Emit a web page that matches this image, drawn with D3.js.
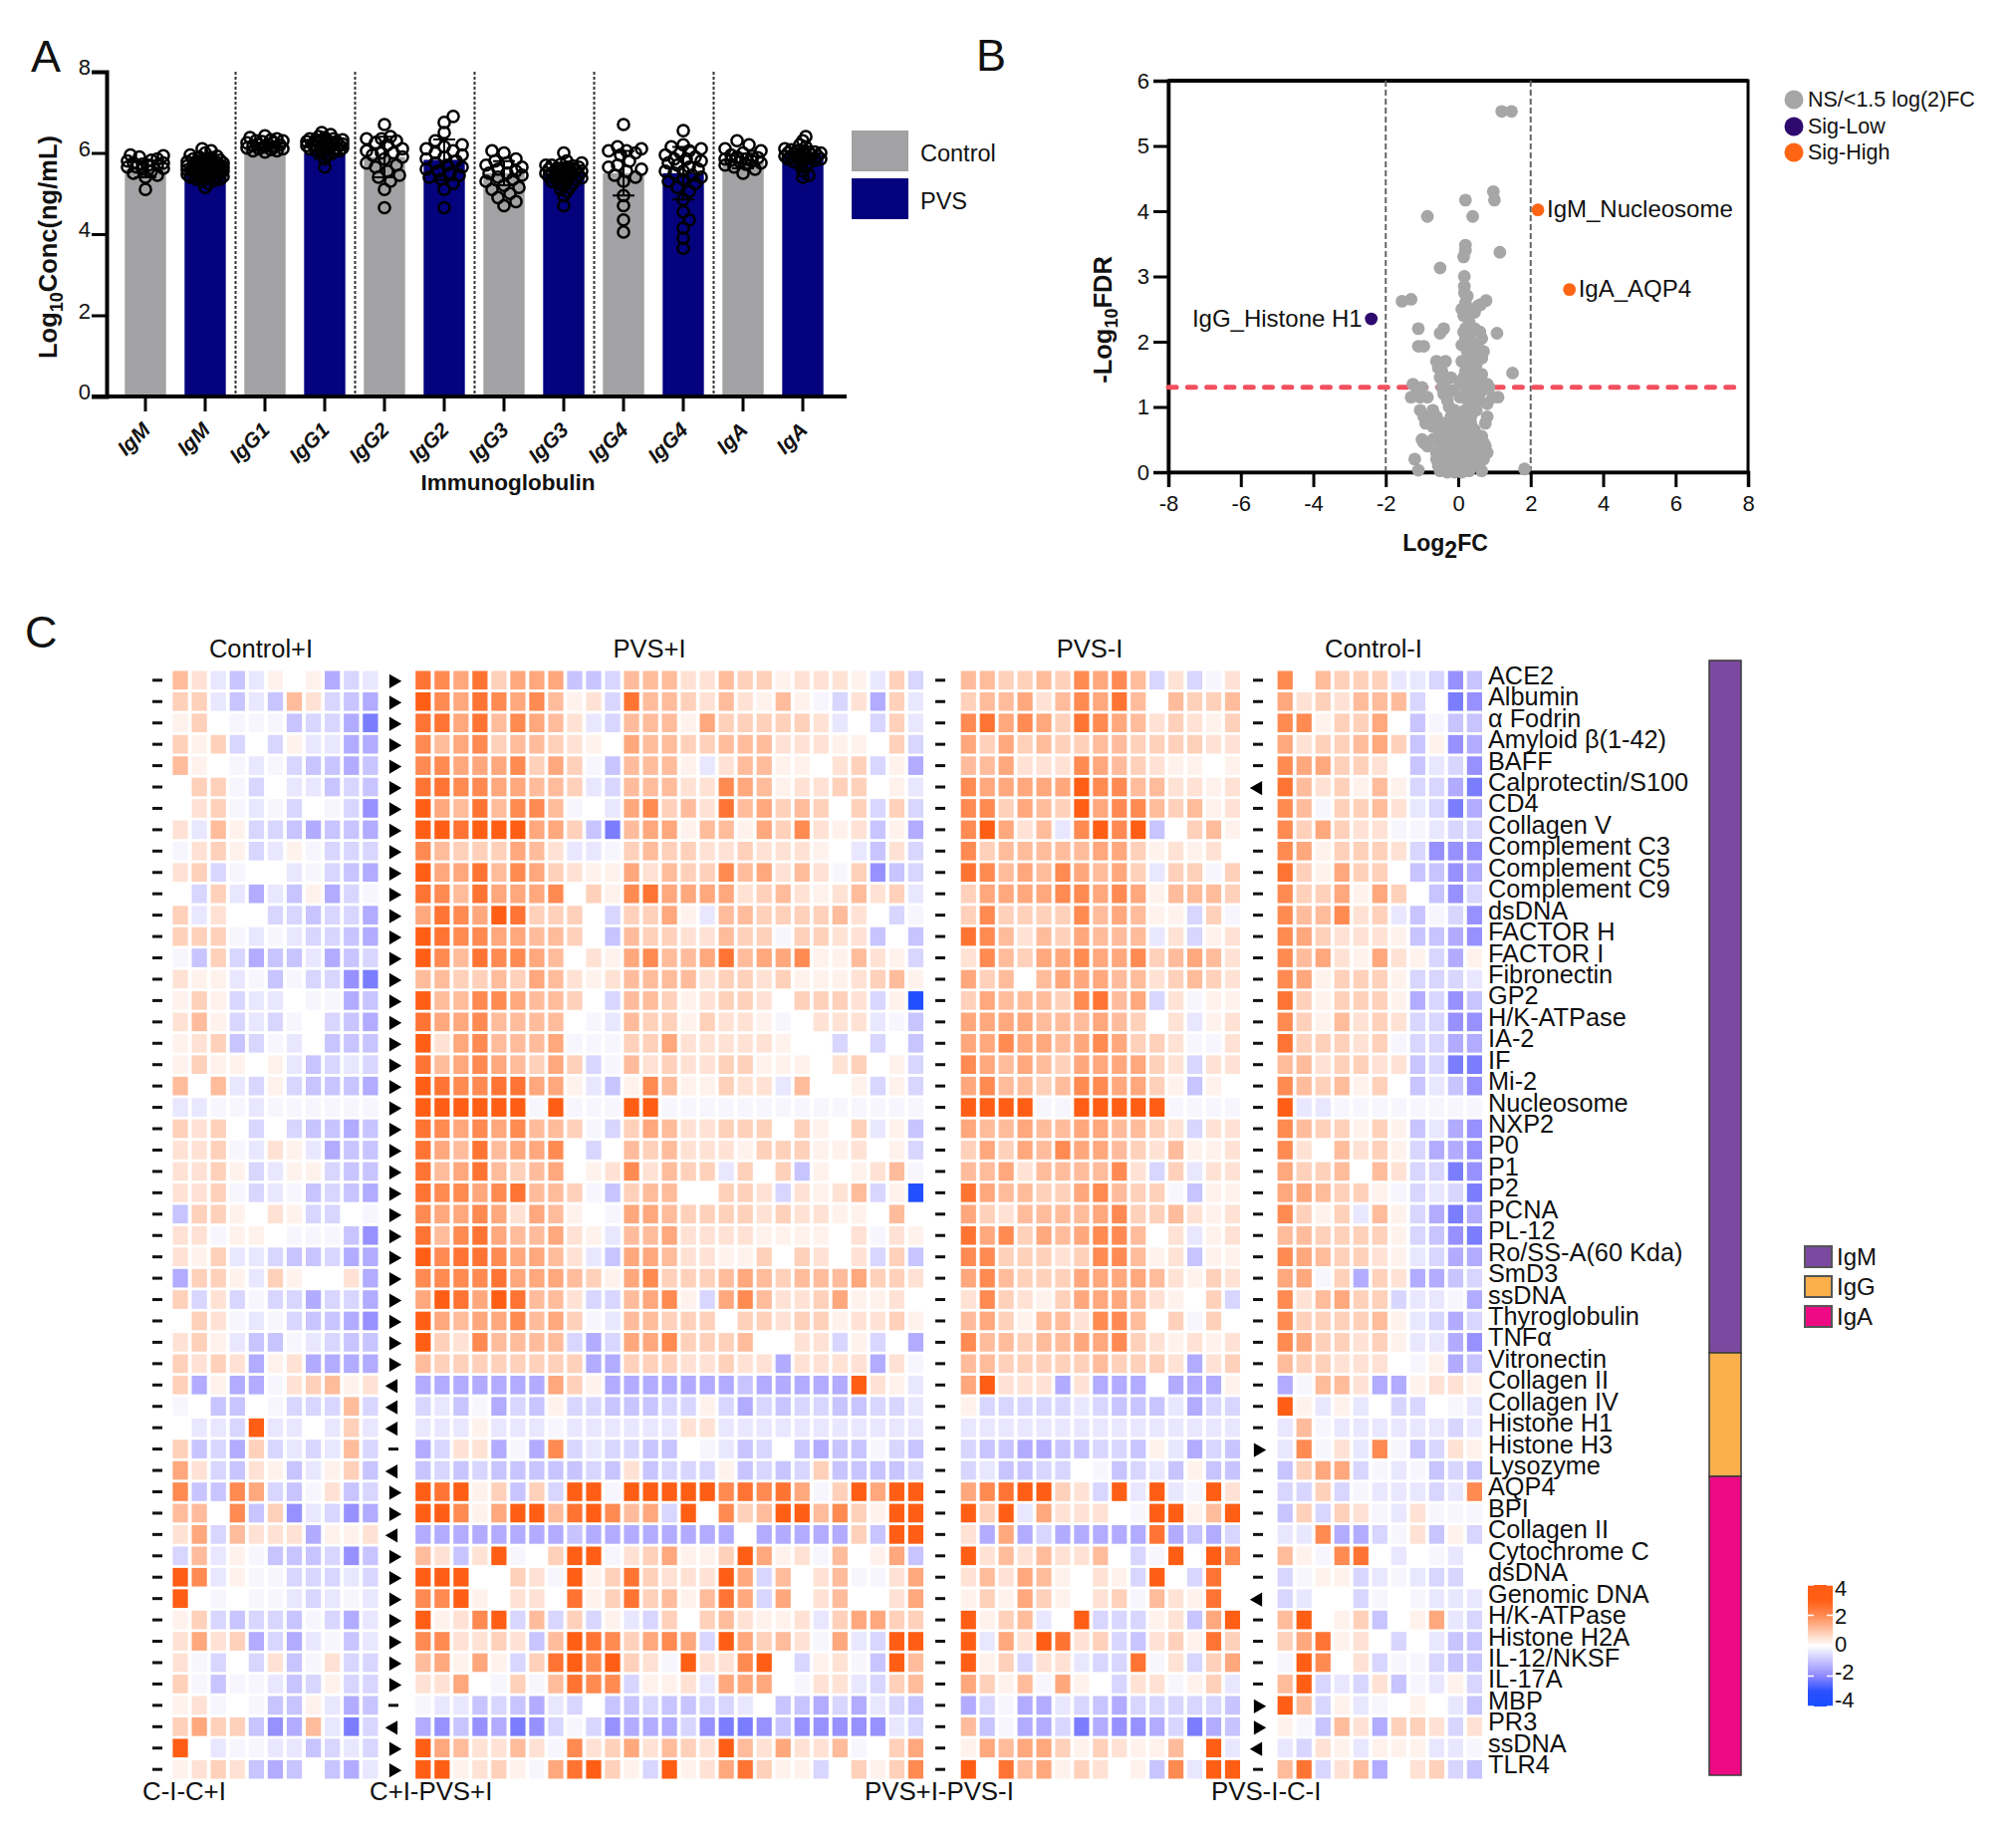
<!DOCTYPE html>
<html>
<head>
<meta charset="utf-8">
<style>
  body { margin: 0; background: #fff; }
  text { font-family: "Liberation Sans", Arial, sans-serif; fill: #111; }
</style>
<script src="https://d3js.org/d3.v7.min.js"></script>
</head>
<body>
<svg id="fig" width="2024" height="1840"></svg>
<script>
// ---- panel A ----
var igNames = ["IgM","IgM","IgG1","IgG1","IgG2","IgG2","IgG3","IgG3","IgG4","IgG4","IgA","IgA"];
var igMeans = [5.6,5.65,6.15,6.0,5.9,5.83,5.5,5.5,5.5,5.5,5.8,5.95];
var igSd = [.2,.2,.1,.15,.5,.5,.3,.25,.55,.65,.18,.15];
var igPoints = [
  [5.1,5.4,5.45,5.5,5.55,5.6,5.62,5.65,5.65,5.7,5.7,5.72,5.75,5.75,5.8,5.82,5.85,5.9,5.93,5.95],
  [5.15,5.25,5.3,5.32,5.35,5.35,5.38,5.4,5.4,5.42,5.42,5.45,5.45,5.45,5.47,5.5,5.5,5.5,5.5,5.52,5.52,5.55,5.55,5.55,5.55,5.58,5.58,5.6,5.6,5.6,5.6,5.62,5.62,5.65,5.65,5.65,5.65,5.68,5.68,5.7,5.7,5.7,5.7,5.72,5.72,5.75,5.75,5.75,5.75,5.78,5.78,5.8,5.8,5.8,5.82,5.85,5.85,5.88,5.9,5.92,5.95,6.0,6.05,6.1],
  [6.02,6.05,6.05,6.08,6.1,6.1,6.12,6.15,6.15,6.18,6.2,6.2,6.22,6.25,6.25,6.28,6.3,6.3,6.32,6.35,6.38,6.42],
  [5.65,5.85,5.95,6.0,6.02,6.05,6.05,6.08,6.1,6.1,6.12,6.12,6.15,6.15,6.15,6.18,6.18,6.2,6.2,6.2,6.22,6.22,6.25,6.25,6.25,6.28,6.28,6.3,6.3,6.32,6.32,6.35,6.35,6.38,6.4,6.45,6.5],
  [4.65,5.1,5.3,5.4,5.45,5.55,5.65,5.7,5.75,5.85,5.9,5.95,6.0,6.0,6.05,6.1,6.2,6.25,6.3,6.35,6.35,6.4,6.7],
  [4.65,5.1,5.25,5.35,5.4,5.45,5.5,5.55,5.6,5.65,5.7,5.75,5.8,5.85,5.9,5.95,6.0,6.05,6.1,6.15,6.2,6.3,6.5,6.75,6.9],
  [4.7,4.8,4.9,5.0,5.1,5.15,5.2,5.3,5.35,5.4,5.45,5.5,5.5,5.55,5.6,5.65,5.7,5.75,5.8,5.85,6.0,6.05],
  [4.7,4.95,5.05,5.1,5.15,5.2,5.25,5.25,5.3,5.3,5.35,5.35,5.38,5.4,5.4,5.42,5.45,5.45,5.48,5.5,5.5,5.5,5.52,5.55,5.55,5.55,5.58,5.6,5.6,5.6,5.62,5.65,5.65,5.68,5.7,5.7,5.72,5.75,5.8,6.0],
  [4.05,4.35,4.7,4.95,5.3,5.4,5.45,5.55,5.6,5.65,5.7,5.8,5.95,6.0,6.05,6.05,6.1,6.15,6.7],
  [3.65,3.9,4.15,4.35,4.55,4.85,5.05,5.15,5.25,5.3,5.35,5.4,5.45,5.5,5.55,5.55,5.6,5.65,5.7,5.75,5.8,5.85,5.85,5.9,5.95,6.0,6.05,6.1,6.15,6.2,6.55],
  [5.5,5.6,5.65,5.7,5.72,5.75,5.78,5.8,5.82,5.85,5.85,5.88,5.9,5.92,5.95,6.0,6.05,6.1,6.2,6.3],
  [5.4,5.45,5.55,5.65,5.7,5.75,5.78,5.8,5.82,5.85,5.85,5.88,5.88,5.9,5.9,5.92,5.92,5.95,5.95,5.98,5.98,6.0,6.0,6.02,6.02,6.05,6.05,6.08,6.1,6.15,6.2,6.3,6.4]
];

// ---- panel B ----
var nsPoints = [[1.2,5.53],[1.47,5.53],[.97,4.3],[1,4.17],[.2,4.17],[-.85,3.92],[.4,3.92],[.2,3.48],[.2,3.4],[.15,3.3],[1.15,3.37],[-.5,3.13],[.17,3],[.17,2.85],[.17,2.75],[-1.55,2.62],[-1.3,2.65],[.77,2.63],[.62,2.57],[.55,2.55],[.1,2.5],[.2,2.6],[.25,2.45],[.15,2.4],[.3,2.3],[.2,2.2],[-1.1,2.2],[-.4,2.2],[-.5,2.13],[.3,2.1],[1.07,2.13],[.6,2.15],[.65,2.05],[.2,2.05],[.35,2],[.1,1.95],[.55,1.9],[.7,1.85],[-1.1,1.93],[-.95,1.93],[.25,1.85],[.45,1.8],[.65,1.75],[.3,1.7],[.1,1.7],[-.6,1.7],[-.35,1.7],[-.55,1.6],[-.45,1.55],[.2,1.55],[.4,1.55],[.65,1.5],[1.5,1.52],[-.5,1.45],[-.35,1.4],[.15,1.45],[.5,1.4],[.8,1.35],[-1.25,1.35],[-1.15,1.3],[-1.1,1.22],[-.45,1.3],[-.4,1.2],[.2,1.3],[.4,1.25],[.65,1.25],[.85,1.3],[-1.3,1.15],[-1.05,1.15],[-.3,1.1],[.15,1.15],[.45,1.1],[.6,1.1],[1.1,1.15],[-1.05,.95],[-.7,.95],[-.1,.95],[.2,.95],[.5,.95],[-.95,.85],[-.6,.85],[-.2,.85],[.1,.85],[.35,.85],[.8,.85],[-.9,.75],[-.7,.7],[-.4,.75],[-.15,.75],[.1,.75],[.35,.75],[-.5,.65],[-.25,.65],[0,.65],[.25,.65],[.45,.65],[-1,.5],[-.95,.45],[-.3,.55],[-.1,.55],[.1,.55],[.3,.55],[.65,.55],[.7,.45],[-.85,.4],[-.5,.4],[-.25,.4],[0,.4],[.2,.4],[.4,.4],[.75,.4],[-.6,.3],[-.35,.3],[-.1,.3],[.15,.3],[.35,.3],[.65,.3],[.8,.3],[-1.2,.2],[-.6,.2],[-.4,.2],[-.2,.2],[0,.2],[.2,.2],[.4,.2],[.7,.2],[-.55,.1],[-.35,.1],[-.15,.1],[.05,.1],[.3,.1],[.55,.1],[-1.1,.03],[-.5,.02],[-.3,0],[-.1,0],[.1,0],[.3,.02],[.65,.02],[1.83,.05],[.05,1.35],[.3,1.45],[.05,1.15],[.3,1.05],[.35,1.6],[.45,2.2],[.4,1.95],[.25,2.7],[.3,2.5],[.45,2.45],[.15,2.15],[.5,1.65],[.5,1.25],[.3,.95],[-.25,1],[-.55,.55],[-.7,.5],[.5,.5],[.55,.3],[-.2,1.45],[-.15,1.25],[.95,1.15],[.8,1.05],[.75,.75],[-.75,.8],[-1,1.3],[-.85,1.15]];
var lowPoints = [[-2.4,2.35]];
var highPoints = [[2.2,4.02],[3.07,2.8]];
var pointLabels = [
  {p: [2.2,4.02], text: "IgM_Nucleosome", side: 1},
  {p: [3.07,2.8], text: "IgA_AQP4", side: 1},
  {p: [-2.4,2.35], text: "IgG_Histone H1", side: -1}
];

// ---- panel C ----
var antigens = ["ACE2","Albumin","α Fodrin","Amyloid β(1-42)","BAFF","Calprotectin/S100","CD4","Collagen V","Complement C3","Complement C5","Complement C9","dsDNA","FACTOR H","FACTOR I","Fibronectin","GP2","H/K-ATPase","IA-2","IF","Mi-2","Nucleosome","NXP2","P0","P1","P2","PCNA","PL-12","Ro/SS-A(60 Kda)","SmD3","ssDNA","Thyroglobulin","TNFα","Vitronectin","Collagen II","Collagen IV","Histone H1","Histone H3","Lysozyme","AQP4","BPI","Collagen II","Cytochrome C","dsDNA","Genomic DNA","H/K-ATPase","Histone H2A","IL-12/NKSF","IL-17A","MBP","PR3","ssDNA","TLR4"];
var isotypeNames = ["IgM","IgG","IgA"];
var isotypeCounts = [33,5,14];
var isotypeColors = ["#7b4aa0","#fbb04c","#ee0a85"];

// one letter per cell; levels below turn them into log2 values
var levels = {"0":0,"1":.22,"2":.5,"3":.8,"4":1.15,"5":1.5,"6":2,"7":2.5,"8":3.2,a:-.15,b:-.4,c:-.7,d:-1,e:-1.4,f:-1.85,g:-2.2,h:-3.5};

var controlPlus = ["42bdb101ecb","33bdbd42cde","130aaadcceg","313c0c1bbee","410abacdded","033ac0bbdcd","023abac0acf","2b41ccdedde","a231cb1accc","23ca00bacde","0c3bebd1eca","3b200ccdcce","333ababccde","ad3ceddbedc","211badaccfg","131cbb0aaed","241cbca0cde","123dcab0ddd","131101bdcbc","404bc1cddde","bbaabaaaaaa","3230c0cdded","223ab21bedd","2231cb11cdd","223acbadcde","d331021cc0a","22a110aaadf","213bbcddcee","e331b31002e","3c2caccecce","032abacddef","231bddabcdd","3232e12eeee","3e1eea23412","a0dd0accc4c","0bbc8bb0b3b","3dce3cbcb4c","52cd21db13d","6dd65cda2dc","4406d3fbcfe","25c4222e112","c4b1adddcfd","86b1aacccbc","80a0aabcbab","13cdccdaceb","2523ecebadb","2ac0c2da2cc","3adaabdc1cc","12a0add1bed","3533dfe4bgc","80baabbdcbc","1232ded0deb"];

var pvsPlus = ["76573555 ddc 444 22 433 12221 b3c","86576564 12c 744 32 421 41ac2 e3b","77574654 2bc 444 15 333 332b0 c3b","64563443 210 544 33 444 22211 03c","66555635 3ad 444 1b 244 11023 c1e","77665544 3bc 444 22 654 12233 01b","85474664 a0b 563 42 745 34303 c3c","88788855 3dg 455 14 415 36212 d1e","64333542 bba 343 32 232 2210b d2c","85574653 211 524 33 645 242a3 fdc","76475556 031 675 55 523 42124 23b","57658733 30c 335 1b 443 33342 0ca","87665544 30d 433 22 433 a3322 d0d","86476654 021 564 45 745 56114 21c","44334354 212 444 42 332 31112 341","84466544 30c 443 12 332 03332 c1h","75564444 0ab 433 13 221 a0222 bad","82564445 aaa 335 22 222 100c0 c0d","74565435 3ca 423 22 331 11023 01c","87667755 1bd 164 11 322 b4001 c1c","888888a8 aaa 88a aa aaa aaaaa aaa","76565644 3ac 354 22 333 03103 b1d","75474556 0c0 434 22 213 33112 01c","74574345 012 624 33 b30 3d101 24a","76656744 3ad 344 00 332 c2124 c1h","65565254 10a 554 33 332 32211 040","74675445 21b 445 22 221 11102 a21","86776554 2bd 554 22 113 03202 c3d","66667555 431 563 33 454 34445 332","58758744 2cc 456 1c 564 22351 120","85455645 3ab 443 33 033 23312 231","83264444 cec 556 33 340 022c1 c0e","43333333 3ee 333 22 322 e2222 e2a","eeeeeee5 31e eee ee ede eeee8 21b","cbdaecd1 ccd ddc c1 cec dccdd ccb","bbb1bbba bbb bbb 22 bbb bbbbb bbb","ec22eae6 cbc cdd 0a bdc 0dedd acd","dcdcdddd dcd 2dc cc 1dc dc3dd ddc","87813d3c 88a 888 88 676 75a38 588","88615884 786 45c 80 634 88463 188","eeeeeeee dee eee ee e0e eeee3 d88","42d28a03 88a 235 11 385 12a40 15d","8880032a 813 732 22 85c 4024a a25","66810220 713 734 14 75c 50240 025","81268c4c 3c1 bc3 03 421 12b35 533","662232d4 876 356 5c 853 42a5b c88","45151c37 868 32a 82 268 0c12a d84","2250a3a4 766 c11 2b 555 0a22b c34","abbdcdeb c0d dcd dc cb0 ddece bcd","efdfegfc acf eee cf ggf dffff fbc","8542242a 623 524 32 842 5224a 035","881231a5 783 1c8 12 573 11c03 136"];

var pvsMinus = ["44334 36564 c2ca2","34452 46574 04334","67565 37654 23213","53534 33443 33322","44522 26543 21101","65555 58664 42212","66354 38566 43412","68524 b6868 d0341","63444 44553 12120","76454 65453 b33a3","35555 66565 14443","36333 36454 11c3a","76424 35444 b2c12","26435 56556 34542","53404 55544 23432","35444 36745 c2a11","55554 44543 02b12","55655 45653 32aa2","65454 35555 32c22","56443 46655 31d10","8888a a8888 8aaaa","54454 45544 32c22","35354 65543 24112","44524 44462 c3b22","75443 35643 3ad11","53244 44563 34212","75635 45664 02b12","66333 23664 12d11","56433 35555 42132","26321 35554 2103c","45314 42664 03a30","64434 45563 21212","44333 33433 32e23","58222 e2eee 0eee1","1cccc cbcdd dbecc","bbbbb bbbbb bbbbb","cddee ddccd 1becd","cbddc c0adc bd1dd","56788 32c8b 8ba82","838b5 2220a 88148","2e5ec eeeee 7edec","82424 2240c a8086","24254 1021c 80c70","13153 1023a 42170","8134b 08ccc 12d58","8b528 723cd 23173","813c2 2bcc7 a2c35","5314a 510c2 2a13b","ecaee bcdec ccccd","4daee cgeff ecged","15455 31321 1408b","80745 13201 d6b88"];

var controlMinus = ["604333bbcfd","5232444c0gf","6613350dadd","5233453d1fe","6553320dbcf","7423141cceg","64a3342bcge","635322aabcc","6513332cfff","7315330ddfe","63351530dfc","644623bdacf","6532221ddef","64521521ce1","6513331cccb","7313331ecfd","6314232ccff","733323accee","4423322dcgg","6434130dbdf","8bbaaaaaaaa","6433131dbef","6204231ceef","5334042ccgf","554331acbcg","6313b41cege","4433331cdfg","6543321bcee","55a3e32eedc","624533cbbae","6333341bcec","6533231bbef","4332220a1ed","ea442ee1221","81b1b0cc0ab","b4abbbbbbcb","b6a2b6adc21","d355cabadcd","cc3cabbbcb6","d3c32ab2aaa","bb6eeca2d1c","41a670b0ab0","ca11cbabcc0","cb00ca0abbb","48013d015bc","357120c0bdd","a8602caacdd","48cbc2dab1c","84c1ba010bd","1ad42e332c2","bc21b111bba","47c24e023cd"];

// direction markers between the blocks: 1 right, -1 left, 0 dash
var markersB = [1,1,1,1,1,1,1,1,1,1,1,1,1,1,1,1,1,1,1,1,1,1,1,1,1,1,1,1,1,1,1,1,1,-1,-1,-1,0,-1,1,1,-1,1,1,1,1,1,1,1,0,-1,1,1];
var markersD = [0,0,0,0,0,-1,0,0,0,0,0,0,0,0,0,0,0,0,0,0,0,0,0,0,0,0,0,0,0,0,0,0,0,0,0,0,1,0,0,0,0,0,0,-1,0,0,0,0,1,1,-1,0];

var svg = d3.select("#fig");

function panelLetter(s, x, y) {
  svg.append("text").attr("x", x).attr("y", y).attr("font-size", 45).text(s);
}
panelLetter("A", 31, 72);
panelLetter("B", 980, 71);
panelLetter("C", 25, 650);

// ---------- A: bars ----------
var xA = d3.scaleBand().domain(d3.range(igNames.length)).range([116, 836]).paddingInner(.31).paddingOuter(.155),
    yA = d3.scaleLinear().domain([0, 8]).range([398, 72]),
    a = svg.append("g");

[236.5, 356.5, 476.5, 596.5, 716.5].forEach(function(x) {
  a.append("line").attr("x1", x).attr("x2", x).attr("y1", 72).attr("y2", 398)
    .attr("stroke", "#333").attr("stroke-width", 2).attr("stroke-dasharray", "3,2");
});

a.selectAll(".bar").data(igMeans).enter().append("rect")
  .attr("class", "bar")
  .attr("x", function(d, i) { return xA(i); })
  .attr("width", xA.bandwidth())
  .attr("y", function(d) { return yA(d); })
  .attr("height", function(d) { return yA(0) - yA(d); })
  .attr("fill", function(d, i) { return i % 2 ? "#04027c" : "#a2a2a4"; });

// simple bee swarm: nearest offset that keeps a gap, else the roomiest one
function swarm(values) {
  var placed = [],
      gap = values.length > 32 ? 5 : 10,
      offsets = [0,3,-3,6,-6,9,-9,12,-12,15,-15,18,-18];
  values.slice().sort(d3.ascending).forEach(function(v) {
    var py = yA(v), best = 0, bestRoom = -1;
    for (var k = 0; k < offsets.length; k++) {
      var room = d3.min(placed, function(q) { return Math.hypot(q.dx - offsets[k], q.y - py); });
      if (room === undefined) room = 99;
      if (room > bestRoom) { bestRoom = room; best = offsets[k]; }
      if (room > gap) break;
    }
    placed.push({dx: best, y: py});
  });
  return placed;
}

igPoints.forEach(function(vals, i) {
  var cx = xA(i) + xA.bandwidth() / 2;
  var g = a.append("g");
  g.selectAll("circle").data(swarm(vals)).enter().append("circle")
    .attr("cx", function(d) { return cx + d.dx; })
    .attr("cy", function(d) { return d.y; })
    .attr("r", 5.6)
    .attr("fill", "none")
    .attr("stroke", "#000")
    .attr("stroke-width", 2.5);
  var lo = yA(igMeans[i] - igSd[i]), hi = yA(igMeans[i] + igSd[i]);
  g.append("path")
    .attr("d", "M" + (cx - 11) + "," + lo + "H" + (cx + 11) + "M" + cx + "," + lo + "V" + hi + "M" + (cx - 11) + "," + hi + "H" + (cx + 11))
    .attr("fill", "none").attr("stroke", "#000").attr("stroke-width", 2);
});

var axA = a.append("g").attr("transform", "translate(107,0)")
  .call(d3.axisLeft(yA).tickValues([0, 2, 4, 6, 8]).tickSize(15).tickPadding(1));
axA.select(".domain").attr("stroke", "#000").attr("stroke-width", 4);
axA.selectAll(".tick line").attr("stroke", "#000").attr("stroke-width", 3);
axA.selectAll(".tick text").attr("font-size", 22).attr("font-family", "Liberation Sans").attr("fill", "#111").attr("dy", "0.12em");

a.append("line").attr("x1", 92).attr("x2", 850).attr("y1", 398).attr("y2", 398)
  .attr("stroke", "#000").attr("stroke-width", 4);
var botA = a.append("g").attr("transform", "translate(0,398)")
  .call(d3.axisBottom(xA).tickSize(15).tickFormat(function(i) { return igNames[i]; }));
botA.select(".domain").remove();
botA.selectAll(".tick line").attr("stroke", "#000").attr("stroke-width", 3);
botA.selectAll(".tick text")
  .attr("font-size", 21).attr("font-style", "italic").attr("font-weight", "bold")
  .attr("font-family", "Liberation Sans").attr("fill", "#111")
  .attr("text-anchor", "end").attr("dy", 0).attr("y", 0)
  .attr("transform", "translate(6,35) rotate(-45)");

a.append("text").attr("x", 510).attr("y", 492).attr("text-anchor", "middle")
  .attr("font-size", 22.5).attr("font-weight", "bold").text("Immunoglobulin");

var tA = a.append("text").attr("transform", "translate(57,248) rotate(-90)")
  .attr("text-anchor", "middle").attr("font-size", 25.5).attr("font-weight", "bold");
tA.append("tspan").text("Log");
tA.append("tspan").attr("font-size", 18).attr("dy", 6).text("10");
tA.append("tspan").attr("dy", -6).text("Conc(ng/mL)");

[["Control", "#a2a2a4", 131, 162], ["PVS", "#04027c", 179, 210]].forEach(function(d) {
  a.append("rect").attr("x", 855).attr("y", d[2]).attr("width", 57).attr("height", 41).attr("fill", d[1]);
  a.append("text").attr("x", 924).attr("y", d[3]).attr("font-size", 23.5).text(d[0]);
});

// ---------- B: volcano ----------
var xB = d3.scaleLinear().domain([-8, 8]).range([1173, 1755]),
    yB = d3.scaleLinear().domain([0, 6]).range([474, 81]),
    b = svg.append("g");

b.append("rect").attr("x", xB(-8)).attr("y", yB(6)).attr("width", xB(8) - xB(-8)).attr("height", yB(0) - yB(6))
  .attr("fill", "none").attr("stroke", "#000").attr("stroke-width", 3);
b.append("line").attr("x1", xB(-8)).attr("x2", xB(8)).attr("y1", yB(6)).attr("y2", yB(6)).attr("stroke", "#000").attr("stroke-width", 4);

[-2, 2].forEach(function(v) {
  b.append("line").attr("x1", xB(v)).attr("x2", xB(v)).attr("y1", yB(6)).attr("y2", yB(0))
    .attr("stroke", "#666").attr("stroke-width", 2).attr("stroke-dasharray", "6,3");
});

var axBy = b.append("g").attr("transform", "translate(1173,0)")
  .call(d3.axisLeft(yB).ticks(6).tickSize(15).tickPadding(4));
var axBx = b.append("g").attr("transform", "translate(0,474)")
  .call(d3.axisBottom(xB).tickValues(d3.range(-8, 9, 2)).tickSize(15).tickPadding(8).tickFormat(String));
[axBy, axBx].forEach(function(ax) {
  ax.select(".domain").attr("stroke", "#000").attr("stroke-width", 3.5);
  ax.selectAll(".tick line").attr("stroke", "#000").attr("stroke-width", 3);
  ax.selectAll(".tick text").attr("font-size", 22).attr("font-family", "Liberation Sans").attr("fill", "#111");
});

b.append("line").attr("x1", xB(-8)).attr("x2", xB(8) - 8).attr("y1", yB(1.3)).attr("y2", yB(1.3))
  .attr("stroke", "#f2505f").attr("stroke-width", 5).attr("stroke-dasharray", "8,11.3").attr("stroke-linecap", "round");

function dots(data, color) {
  b.append("g").selectAll("circle").data(data).enter().append("circle")
    .attr("cx", function(d) { return xB(d[0]); })
    .attr("cy", function(d) { return yB(d[1]); })
    .attr("r", 6.4).attr("fill", color);
}
dots(nsPoints, "#a6a6a6");
dots(lowPoints, "#2f0a6e");
dots(highPoints, "#ff6514");

pointLabels.forEach(function(d) {
  b.append("text").attr("x", xB(d.p[0]) + d.side * 9).attr("y", yB(d.p[1]) + 7.5)
    .attr("text-anchor", d.side > 0 ? "start" : "end")
    .attr("font-size", 24).text(d.text);
});

var tBx = b.append("text").attr("x", 1451).attr("y", 553).attr("text-anchor", "middle")
  .attr("font-size", 23).attr("font-weight", "bold");
tBx.append("tspan").text("Log");
tBx.append("tspan").attr("font-size", 23).attr("dy", 7).text("2");
tBx.append("tspan").attr("dy", -7).text("FC");
var tBy = b.append("text").attr("transform", "translate(1116,321) rotate(-90)")
  .attr("text-anchor", "middle").attr("font-size", 25.5).attr("font-weight", "bold");
tBy.append("tspan").text("-Log");
tBy.append("tspan").attr("font-size", 18).attr("dy", 6).text("10");
tBy.append("tspan").attr("dy", -6).text("FDR");

[["NS/<1.5 log(2)FC", "#a6a6a6", 100], ["Sig-Low", "#2f0a6e", 127], ["Sig-High", "#ff6514", 153]].forEach(function(d) {
  b.append("circle").attr("cx", 1801).attr("cy", d[2]).attr("r", 9.5).attr("fill", d[1]);
  b.append("text").attr("x", 1815).attr("y", d[2] + 7).attr("font-size", 21.5).text(d[0]);
});

// ---------- C: heat map ----------
var yC = d3.scaleBand().domain(d3.range(antigens.length)).range([673.5, 1785.5]).paddingInner(.13),
    color = d3.scaleLinear()
      .domain([-4, -3, -2, 0, 2, 3, 4])
      .range(["#1a4dff", "#2a50ff", "#8f88ff", "#ffffff", "#ff8a52", "#ff5e14", "#ff5e14"]),
    c = svg.append("g");

var blocks = [
  {rows: controlPlus, x0: 173.4, x1: 379.5, title: "Control+I", tx: 262},
  {rows: pvsPlus, x0: 417.2, x1: 927, title: "PVS+I", tx: 652},
  {rows: pvsMinus, x0: 964.7, x1: 1245, title: "PVS-I", tx: 1094},
  {rows: controlMinus, x0: 1282.6, x1: 1488, title: "Control-I", tx: 1379}
];

blocks.forEach(function(block) {
  var rows = block.rows.map(function(s) { return s.replace(/ /g, "").split(""); });
  var xC = d3.scaleBand().domain(d3.range(rows[0].length)).range([block.x0, block.x1]).paddingInner(.2);
  var g = c.append("g");
  g.selectAll("g").data(rows).enter().append("g")
    .attr("transform", function(d, i) { return "translate(0," + yC(i) + ")"; })
    .selectAll("rect").data(function(d) { return d; }).enter().append("rect")
    .attr("x", function(d, i) { return xC(i); })
    .attr("width", xC.bandwidth())
    .attr("height", yC.bandwidth())
    .attr("fill", function(d) { return color(levels[d]); });
  c.append("text").attr("x", block.tx).attr("y", 660).attr("text-anchor", "middle")
    .attr("font-size", 25.5).text(block.title);
});

function markerColumn(x, signs) {
  var g = c.append("g");
  signs.forEach(function(s, i) {
    var cy = yC(i) + yC.bandwidth() / 2;
    if (s === 0) {
      g.append("rect").attr("x", x - 5).attr("y", cy - 1.5).attr("width", 10).attr("height", 3).attr("fill", "#111");
    } else {
      g.append("path").attr("d", d3.symbol(d3.symbolTriangle, 88))
        .attr("transform", "translate(" + x + "," + (cy + 1) + ") rotate(" + (s > 0 ? 90 : -90) + ")")
        .attr("fill", "#000");
    }
  });
}
var noChange = antigens.map(function() { return 0; });
markerColumn(158, noChange);
markerColumn(395, markersB);
markerColumn(944, noChange);
markerColumn(1263, markersD);

c.selectAll(".ag").data(antigens).enter().append("text")
  .attr("class", "ag")
  .attr("x", 1494)
  .attr("y", function(d, i) { return yC(i) + yC.bandwidth() / 2 + 4; })
  .attr("font-size", 25.3)
  .text(function(d) { return d; });

[["C-I-C+I", 143], ["C+I-PVS+I", 371], ["PVS+I-PVS-I", 868], ["PVS-I-C-I", 1216]].forEach(function(d) {
  c.append("text").attr("x", d[1]).attr("y", 1807).attr("font-size", 25.8).text(d[0]);
});

// isotype strip at the right, boundaries do not follow the rows exactly
var ends = d3.cumsum(isotypeCounts),
    stripY = d3.scaleLinear().domain([0, ends[0], ends[1], ends[2]]).range([663, 1358, 1482, 1782]);
isotypeCounts.forEach(function(n, i) {
  var from = i ? ends[i - 1] : 0;
  c.append("rect").attr("x", 1716).attr("y", stripY(from)).attr("width", 32).attr("height", stripY(ends[i]) - stripY(from))
    .attr("fill", isotypeColors[i]).attr("stroke", "#3a3a3a").attr("stroke-width", 1.5);
  c.append("rect").attr("x", 1812).attr("y", 1251 + i * 30).attr("width", 27).attr("height", 21)
    .attr("fill", isotypeColors[i]).attr("stroke", "#555").attr("stroke-width", 2);
  c.append("text").attr("x", 1844).attr("y", 1270 + i * 30).attr("font-size", 24).text(isotypeNames[i]);
});

// colour key
var yKey = d3.scaleLinear().domain([-4, 4]).range([1713, 1591]),
    yKeyLabel = d3.scaleLinear().domain([-4, 4]).range([1707, 1595]),
    grad = svg.append("defs").append("linearGradient").attr("id", "key")
      .attr("x1", 0).attr("x2", 0).attr("y1", 1).attr("y2", 0);
d3.range(-4, 4.01, .25).forEach(function(v) {
  grad.append("stop").attr("offset", (v + 4) / 8).attr("stop-color", color(v));
});
c.append("rect").attr("x", 1815).attr("y", yKey(4)).attr("width", 25).attr("height", yKey(-4) - yKey(4)).attr("fill", "url(#key)");
[-4, -2, 0, 2, 4].forEach(function(v) {
  if (v !== 0) {
    c.append("line").attr("x1", 1815).attr("x2", 1840).attr("y1", yKey(v)).attr("y2", yKey(v))
      .attr("stroke", "#fff").attr("stroke-width", 1.5).attr("stroke-dasharray", "6,13,6");
  }
  c.append("text").attr("x", 1842).attr("y", yKeyLabel(v) + 7).attr("font-size", 22).text(v);
});
</script>
</body>
</html>
